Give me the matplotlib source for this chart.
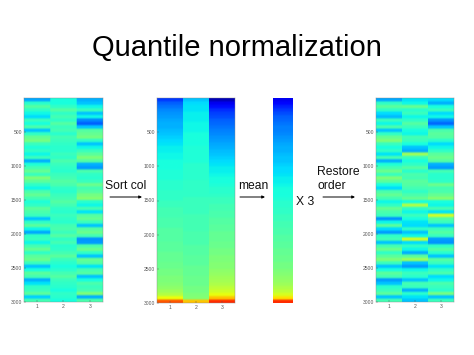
import matplotlib
matplotlib.use("Agg")
import matplotlib.pyplot as plt
import numpy as np

plt.rcParams['font.family'] = ['Liberation Sans', 'DejaVu Sans']

TITLE = "Quantile normalization"
y_ticks = [500, 1000, 1500, 2000, 2500, 3000]
col_ticks = [1, 2, 3]

# Each list: colour-scale level (0-100) of 60 horizontal bands, top to bottom
raw_1 = [29,40,45,41,37,34,42,38,44,32,41,47,49,42,39,41,37,42,30,39,
         43,47,42,50,46,41,37,44,47,43,39,41,46,44,42,32,41,46,37,29,
         41,42,37,43,47,41,46,48,42,32,38,46,43,30,35,41,42,46,33,43]
raw_2 = [38,38,41,45,41,43,41,45,42,43,40,43,42,41,40,40,42,41,44,42,
         41,40,42,43,45,44,41,40,42,43,45,43,41,40,42,41,40,43,44,42,
         45,41,43,40,41,43,46,42,40,38,40,43,45,42,41,40,38,41,40,38]
raw_3 = [30,32,37,42,32,37,26,22,32,45,47,49,41,32,37,42,46,50,45,30,
         28,44,41,40,42,48,43,45,49,51,40,37,43,35,45,47,42,32,45,48,
         43,27,28,44,48,41,32,47,45,35,43,45,32,38,44,42,43,50,30,44]

rest_1 = [29,41,46,41,34,31,42,37,44,32,41,47,50,42,38,41,35,43,30,39,
          43,48,42,50,46,38,34,44,47,43,37,41,47,44,42,27,37,46,34,28,
          41,43,32,43,48,41,46,50,42,32,38,46,43,28,32,40,42,46,32,43]
rest_2 = [35,37,47,40,42,37,41,45,42,38,37,43,42,38,32,30,54,42,38,41,
          45,40,44,43,46,45,43,41,44,47,38,56,41,37,42,38,35,34,41,32,
          37,60,34,41,37,30,46,54,32,28,37,42,40,32,43,42,30,40,35,32]
rest_3 = [34,30,38,42,34,37,27,23,32,44,46,45,40,34,37,41,46,48,45,30,
          28,43,40,40,41,48,43,44,47,51,38,37,43,35,60,45,42,32,42,45,
          42,28,27,41,45,40,32,45,42,35,41,44,34,37,44,42,40,49,32,42]

sorted_1 = [18,22,24,26,27,28,29,30,30,31,32,33,34,35,36,36,37,37,38,38,
            38,39,39,39,40,40,40,41,41,41,42,42,43,43,43,44,44,44,45,45,
            45,45,46,46,46,47,47,47,48,48,49,49,50,50,51,52,54,57,64,82]
sorted_2 = [32,34,35,35,36,36,36,37,37,37,38,38,38,38,39,39,39,39,39,40,
            40,40,40,40,41,41,41,41,41,42,42,42,42,42,43,43,43,43,43,44,
            44,44,44,45,45,45,46,46,46,47,47,47,48,48,48,49,49,50,51,70]
sorted_3 = [5,10,14,17,19,20,22,23,24,25,26,27,28,29,30,31,32,33,34,35,
            36,36,37,38,38,39,40,40,41,42,42,43,43,44,44,45,45,46,46,47,
            47,47,48,48,49,49,50,50,51,51,52,53,54,55,56,58,60,63,70,86]
mean_col = [10,13,16,18,20,22,23,24,25,25,26,27,28,29,30,30,31,32,32,33,
            34,34,35,36,36,37,38,38,38,39,40,40,41,41,42,42,43,43,44,44,
            45,45,46,46,47,47,48,48,49,49,50,51,52,53,54,56,58,61,67,86]

W, H = 474, 355
fig = plt.figure(figsize=(W / 100, H / 100), dpi=100, facecolor='white')

def px_axes(x0, y0, x1, y1):
    return fig.add_axes([x0 / W, 1 - y1 / H, (x1 - x0) / W, (y1 - y0) / H])

def heat(x0, x1, cols, y0=98, y1=302, labels=True):
    ax = px_axes(x0, y0, x1, y1)
    # repeat across so the soft resampling only blurs bands, not column edges
    data = np.repeat(np.array(cols, dtype=float).T, 30, axis=1)
    ax.imshow(data, cmap='jet', vmin=0, vmax=100, aspect='auto',
              extent=(0.5, len(cols) + 0.5, 3000, 0), interpolation='hanning')
    if labels:
        ax.set_xticks(col_ticks)
        ax.set_yticks(y_ticks)
        ax.tick_params(direction='in', length=1.5, width=0.3, labelsize=3.6,
                       colors='#555555', pad=1.5)
        for s in ax.spines.values():
            s.set_linewidth(0.3)
            s.set_color('#888888')
    else:
        ax.axis('off')
    return ax

heat(24, 103, [raw_1, raw_2, raw_3])
heat(157, 235, [sorted_1, sorted_2, sorted_3], y1=303)
heat(273, 293, [mean_col], y1=303, labels=False)
heat(376, 454, [rest_1, rest_2, rest_3])

fig.text(237 / W, 1 - 56 / H, TITLE, ha='center', va='baseline', fontsize=21, color='black')

def label(x, y, s):
    fig.text(x / W, 1 - y / H, s, ha='left', va='baseline', fontsize=8.7, color='#111111')

label(105, 189, "Sort col")
label(238, 189, "mean")
label(296, 205, "X 3")
label(317, 175, "Restore")
label(317, 189, "order")

def arrow(x0, x1, y):
    fig.add_artist(matplotlib.patches.FancyArrowPatch(
        (x0 / W, 1 - y / H), (x1 / W, 1 - y / H), transform=fig.transFigure,
        arrowstyle='-|>', mutation_scale=4, linewidth=0.7, color='black',
        shrinkA=0, shrinkB=0))

arrow(110, 142, 197)
arrow(240, 265, 197)
arrow(323, 355, 197)

fig.savefig('out.png', dpi=100)
